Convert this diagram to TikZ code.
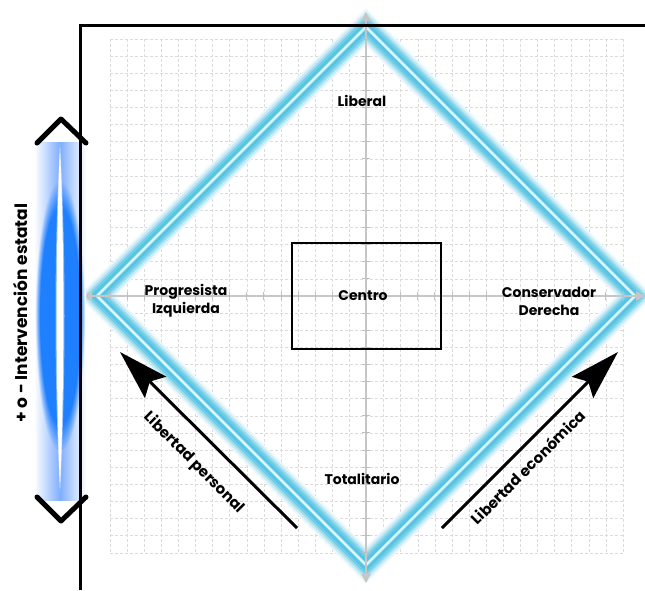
\documentclass[tikz,border=0pt]{standalone}
\usepackage{fontspec}
\setmainfont{Poppins}[BoldFont={Poppins Bold}]
\usetikzlibrary{arrows.meta,fadings}
\definecolor{glow1}{HTML}{EAF7FB}
\definecolor{glow2}{HTML}{C8ECF6}
\definecolor{glow3}{HTML}{9EDDEF}
\definecolor{glow4}{HTML}{72CDE7}
\definecolor{glow5}{HTML}{58C3E2}
\definecolor{glowD}{HTML}{D8F7FD}
\definecolor{barblue}{HTML}{1F80FF}
\definecolor{barpale}{HTML}{7FAEFF}
\tikzset{
  gridline/.style={draw=gray!28, line width=0.6pt, dash pattern=on 3pt off 2pt},
  axisline/.style={draw=gray!45, line width=1.8pt},
  axistick/.style={draw=gray!50, line width=1pt},
  lbl/.style={font=\bfseries\fontsize{14}{16}\selectfont, inner sep=0pt, align=center},
  arrlbl/.style={font=\bfseries\fontsize{15}{17}\selectfont, inner sep=0pt},
  bigarrow/.style={line width=3pt, -{Stealth[length=50pt,width=30pt,inset=8pt]}},
  chevron/.style={line width=5pt, line cap=round, line join=round},
  diam/.style={line join=miter},
}
\begin{document}
\begin{tikzpicture}[x=1pt,y=-1pt]
\useasboundingbox (0,0) rectangle (645,590);
\fill[white] (0,0) rectangle (645,590);

% grid
\foreach \i in {0,...,30}{
  \draw[gridline] ({110+\i*17.1},39) -- ({110+\i*17.1},553);
  \draw[gridline] (110,{39+\i*17.13}) -- (623,{39+\i*17.13});
}

% diamond vertices
\coordinate (T) at (366,27);
\coordinate (R) at (635,296);
\coordinate (B) at (366,565);
\coordinate (L) at (97,296);

% diamond glow
\draw[diam, glow1, line width=26pt] (T) -- (R) -- (B) -- (L) -- cycle;
\draw[diam, glow2, line width=22pt] (T) -- (R) -- (B) -- (L) -- cycle;
\draw[diam, glow3, line width=18pt] (T) -- (R) -- (B) -- (L) -- cycle;
\draw[diam, glow4, line width=14pt] (T) -- (R) -- (B) -- (L) -- cycle;
\draw[diam, glow5, line width=9pt] (T) -- (R) -- (B) -- (L) -- cycle;
\draw[diam, glowD, line width=2.5pt] (T) -- (R) -- (B) -- (L) -- cycle;

% axes
\draw[axisline, -{Triangle[length=9pt,width=9pt]}] (366,296) -- (366,12);
\draw[axisline, -{Triangle[length=9pt,width=9pt]}] (366,296) -- (366,583);
\draw[axisline, -{Triangle[length=9pt,width=9pt]}] (366,296) -- (83,296);
\draw[axisline, -{Triangle[length=9pt,width=9pt]}] (366,296) -- (645,296);
\foreach \i in {0,...,30}{
  \draw[axistick] (362,{39+\i*17.13}) -- (370,{39+\i*17.13});
  \draw[axistick] ({110+\i*17.1},292) -- ({110+\i*17.1},300);
}

% central box
\node[draw=black, line width=2pt, minimum width=149pt, minimum height=106pt, inner sep=0pt] (box) at (366.5,296) {};
\node[lbl] (centro) at (363,296) {Centro};

% labels
\node[lbl] (liberal) at (362,101) {Liberal};
\node[lbl] (totalitario) at (362,479) {Totalitario};
\node[lbl] (izq) at (186,301) {Progresista\\[2pt]Izquierda};
\node[lbl] (der) at (549,301) {Conservador\\[2pt]Derecha};

% arrows
\coordinate (lpTail) at (297,528);
\coordinate (lpTip) at (120,352);
\coordinate (leTail) at (442,528);
\coordinate (leTip) at (618,352);
\draw[bigarrow] (lpTail) -- (lpTip);
\draw[bigarrow] (leTail) -- (leTip);
\node[arrlbl, rotate=-45] (lp) at (194,463) {Libertad personal};
\node[arrlbl, rotate=45] (le) at (528,467) {Libertad económica};

% left glow bar
\shade[left color=white, right color=white, middle color=barpale] (34,142) rectangle (86,500);
\fill[barblue, path fading=circle with fuzzy edge 20 percent] (60,316) ellipse [x radius=25, y radius=135];
\fill[white, opacity=0.5] (60,144) .. controls (66,250) and (66,380) .. (60,492) .. controls (54,380) and (54,250) .. (60,144) -- cycle;
\fill[white] (60,148) .. controls (64.5,250) and (64.5,380) .. (60,488) .. controls (55.5,380) and (55.5,250) .. (60,148) -- cycle;

% frame
\draw[line width=3pt, line join=miter] (80,590) -- (80,25) -- (645,25);

% chevrons
\draw[chevron] (37,143) -- (61,119) -- (86,143);
\draw[chevron] (37,497) -- (61,521) -- (86,497);

\node[font=\bfseries\fontsize{17}{19}\selectfont, inner sep=0pt, rotate=90] (interv) at (20,313) {+ o - Intervención estatal};
\end{tikzpicture}
\end{document}
